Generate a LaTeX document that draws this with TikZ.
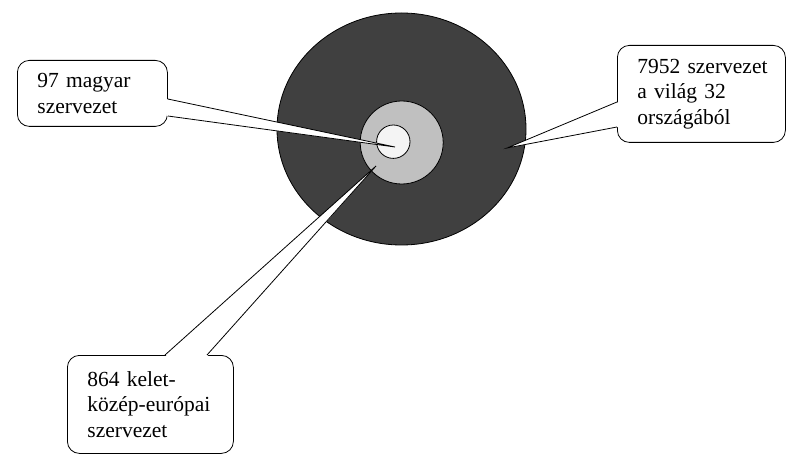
\documentclass[tikz,border=0pt]{standalone}
\usepackage{fontspec}
\setmainfont{Liberation Serif}
\usetikzlibrary{calc}
\definecolor{darkring}{HTML}{404040}
\definecolor{midring}{HTML}{C0C0C0}
\definecolor{core}{HTML}{F4F4F4}
\newcommand\bubblefont{\fontsize{21.5}{25.5}\selectfont\hyphenpenalty=10000 \exhyphenpenalty=10000 \relax}
\tikzset{
  bubble/.style={draw=black, line width=0.8pt, fill=white, rounded corners=12pt,
    inner xsep=20pt, inner ysep=0pt, align=left, anchor=north west,
    font=\bubblefont},
  ring/.style={draw=black, line width=0.8pt},
  pointer/.style={draw=black, line width=0.8pt, line join=miter},
}
\begin{document}
\begin{tikzpicture}[x=1pt,y=-1pt]
\useasboundingbox (0,0) rectangle (787,454);
% rings
\draw[ring, fill=darkring] (401.5,129) ellipse [x radius=124.5, y radius=116];
\draw[ring, fill=midring] (401.7,142.5) circle [radius=41.5];
\draw[ring, fill=core] (393.3,141.7) circle [radius=16.7];
% callout boxes
\node[bubble, minimum width=150pt, minimum height=66pt, text width=110pt] (hu) at (17,60) {97 magyar\\szervezet};
\node[bubble, minimum width=168pt, minimum height=97pt, text width=128pt] (world) at (617,45) {7952~szervezet\\a világ 32\\országából};
\node[bubble, minimum width=166pt, minimum height=98pt, text width=126pt] (cee) at (67,355) {864 kelet-\\közép-európai\\szervezet};
% pointer tips
\coordinate (tiphu) at (395,147);
\coordinate (tipworld) at (507,148);
\coordinate (tipcee) at (376,166);
% pointer bases
\coordinate (hua) at ($(hu.north east)+(0,39)$);
\coordinate (hub) at ($(hu.north east)+(0,56)$);
\coordinate (wa) at ($(world.north west)+(0,57)$);
\coordinate (wb) at ($(world.north west)+(0,82)$);
\coordinate (ca) at ($(cee.north west)+(98,0)$);
\coordinate (cb) at ($(cee.north west)+(140,0)$);
% pointers
\fill[white] ($(hua)+(-1.5,0)$) -- (tiphu) -- ($(hub)+(-1.5,0)$) -- cycle;
\draw[pointer] (hua) -- (tiphu) -- (hub);
\fill[white] ($(wa)+(1.5,0)$) -- (tipworld) -- ($(wb)+(1.5,0)$) -- cycle;
\draw[pointer] (wa) -- (tipworld) -- (wb);
\fill[white] ($(ca)+(0,1.5)$) -- (tipcee) -- ($(cb)+(0,1.5)$) -- cycle;
\draw[pointer] (ca) -- (tipcee) -- (cb);
\end{tikzpicture}
\end{document}
